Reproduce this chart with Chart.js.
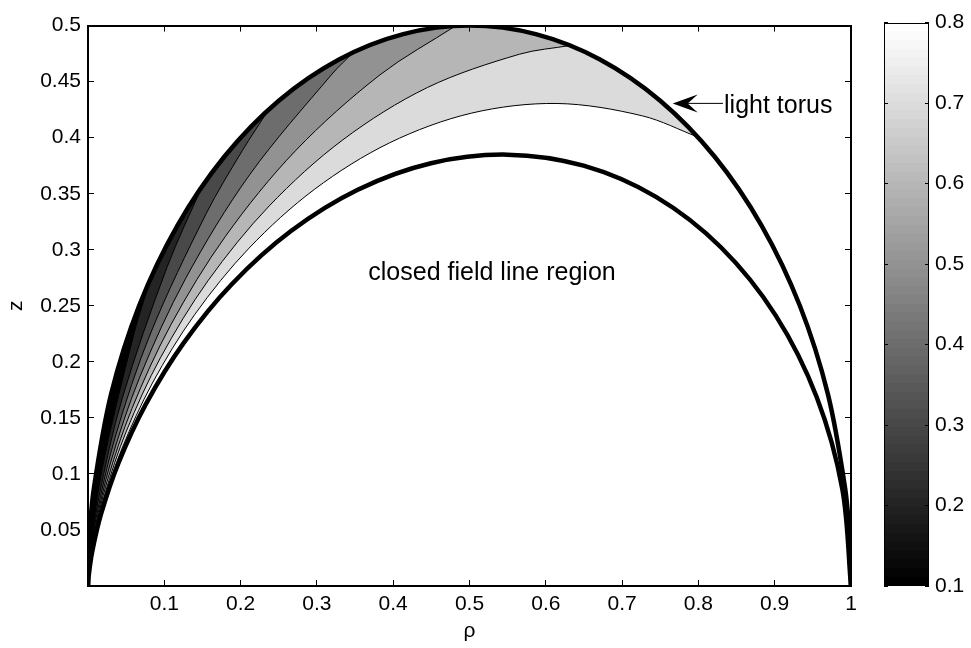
<!DOCTYPE html>
<html><head><meta charset="utf-8">
<script src="https://cdn.jsdelivr.net/npm/chart.js@4.4.1/dist/chart.umd.min.js"></script>
<style>
html,body{margin:0;padding:0;background:#fff;}
#wrap{position:relative;width:971px;height:648px;overflow:hidden;}
#main{position:absolute;left:0;top:0;width:971px;height:648px;}
#cbar{position:absolute;left:860px;top:0;width:111px;height:648px;}
</style></head>
<body><div id="wrap"><canvas id="main" width="971" height="648"></canvas><canvas id="cbar" width="111" height="648"></canvas></div>
<script>
// ---- tick labels ----
const xTicks = [0.1,0.2,0.3,0.4,0.5,0.6,0.7,0.8,0.9,1];
const xTickLabels = ['0.1','0.2','0.3','0.4','0.5','0.6','0.7','0.8','0.9','1'];
const yTicks = [0.05,0.1,0.15,0.2,0.25,0.3,0.35,0.4,0.45,0.5];
const yTickLabels = ['0.05','0.1','0.15','0.2','0.25','0.3','0.35','0.4','0.45','0.5'];
const cbTicks = [0.1,0.2,0.3,0.4,0.5,0.6,0.7,0.8];
const cbTickLabels = ['0.1','0.2','0.3','0.4','0.5','0.6','0.7','0.8'];
const cbMin = 0.1, cbMax = 0.8;

// ---- outer boundary (light torus outer edge) ----
const circleRho = [0,0.0019,0.0076,0.0302,0.0670,0.1170,0.1786,0.2500,0.3290,0.4132,0.5000,0.5868,0.6710,0.7500,0.8214,0.8830,0.9330,0.9698,0.9924,0.9981,1];
const circleZ   = [0,0.0436,0.0868,0.1710,0.2500,0.3214,0.3830,0.4330,0.4698,0.4924,0.5000,0.4924,0.4698,0.4330,0.3830,0.3214,0.2500,0.1710,0.0868,0.0436,0];

// ---- last closed field line ----
const dipoleRho = [0,0.00066,0.00524,0.01734,0.04001,0.07548,0.12500,0.18870,0.26559,0.35355,0.44953,0.54966,0.64952,0.74444,0.82977,0.90122,0.95511,0.98863,1];
const dipoleZ   = [0,0.00757,0.02970,0.06470,0.10992,0.16187,0.21651,0.26949,0.31651,0.35355,0.37720,0.38487,0.37500,0.34714,0.30201,0.24148,0.16841,0.08649,0];

// ---- contour levels and contour lines ----
const contourLevels = [0.8,0.7,0.6,0.5,0.4,0.3,0.2,0.1];
const rho08 = [0,0.00074,0.00586,0.01939,0.04475,0.08443,0.13983,0.21108,0.29708,0.39549,0.50285,0.61485,0.72655,0.79924];
const z08   = [0,0.00846,0.03322,0.07238,0.12296,0.18107,0.24218,0.30146,0.35405,0.39549,0.42194,0.43052,0.41948,0.40057];
const rho07 = [0,0.00083,0.00659,0.02181,0.05033,0.09495,0.15723,0.23736,0.33407,0.44472,0.56545,0.63203];
const z07   = [0,0.00952,0.03735,0.08139,0.13827,0.20361,0.27233,0.33899,0.39813,0.44472,0.47447,0.48226];
const rho06 = [0,0.00095,0.00754,0.02498,0.05765,0.10876,0.18012,0.27190,0.38269,0.48164];
const z06   = [0,0.01090,0.04279,0.09324,0.15839,0.23325,0.31197,0.38832,0.45607,0.49966];
const rho05 = [0,0.00112,0.00887,0.02939,0.06781,0.12794,0.21187,0.31983,0.34810];
const z05   = [0,0.01283,0.05033,0.10967,0.18631,0.27436,0.36696,0.45677,0.47637];
const rho04 = [0,0.00136,0.01075,0.03560,0.08215,0.15499,0.20216,0.23717];
const z04   = [0,0.01554,0.06098,0.13286,0.22572,0.33239,0.38834,0.42535];
const rho03 = [0,0.00171,0.01353,0.04480,0.10338,0.14977];
const z03   = [0,0.01955,0.07673,0.16720,0.28404,0.35685];
const rho02 = [0,0.00231,0.01824,0.06041,0.08237];
const z02   = [0,0.02637,0.10347,0.22545,0.27493];
const rho01 = [0,0.00354,0.02800,0.03497];
const z01   = [0,0.04047,0.15880,0.18370];
const contourLines = [[rho08,z08],[rho07,z07],[rho06,z06],[rho05,z05],[rho04,z04],[rho03,z03],[rho02,z02],[rho01,z01]];

// ---- setup ----
const FONT = '"Liberation Sans", Arial, Helvetica, sans-serif';
Chart.defaults.font.family = FONT;
Chart.defaults.color = '#000';
const pts = (xs, ys) => xs.map((x, i) => ({x: x, y: ys[i]}));
const grayOf = v => { const g = Math.round(Math.max(0, Math.min(1, (v - cbMin) / (cbMax - cbMin))) * 255); return `rgb(${g},${g},${g})`; };

const datasets = [];
contourLines.forEach(([xs, ys], k) => {
  const lvl = contourLevels[k];
  datasets.push({
    data: pts(xs, ys), fill: 'end', backgroundColor: grayOf(lvl - 0.1),
    borderColor: '#000', borderWidth: 1, order: 20 - k, tension: 0.33, pointRadius: 0
  });
});
datasets.push({ data: pts(circleRho, circleZ), fill: 'end', backgroundColor: '#fff', borderColor: '#000', borderWidth: 4.5, order: 2, tension: 0.33, pointRadius: 0, borderJoinStyle: 'round' });
datasets.push({ data: pts(dipoleRho, dipoleZ), fill: false, borderColor: '#000', borderWidth: 4.5, order: 1, tension: 0.33, pointRadius: 0, borderJoinStyle: 'round' });

const setTicks = arr => (s => { s.ticks = arr.map(v => ({value: v})); });
const tickGrid = len => ({ drawOnChartArea: false, drawTicks: true, tickLength: len, color: '#000', lineWidth: 1, z: 1 });
const bord = { display: true, color: '#000', width: 2, z: 1 };

const annot = {
  id: 'annot',
  afterDraw(c) {
    const {ctx} = c; const x = c.scales.x, y = c.scales.y;
    ctx.save();
    ctx.fillStyle = '#000';
    ctx.font = '25px ' + FONT;
    ctx.textBaseline = 'alphabetic';
    ctx.textAlign = 'center';
    ctx.fillText('closed field line region', x.getPixelForValue(0.5295), y.getPixelForValue(0.2734));
    ctx.textAlign = 'left';
    ctx.fillText('light torus', x.getPixelForValue(0.8336), y.getPixelForValue(0.4220));
    const tx = x.getPixelForValue(0.7663), ty = y.getPixelForValue(0.4306), ex = x.getPixelForValue(0.8322);
    ctx.strokeStyle = '#000'; ctx.lineWidth = 1;
    ctx.beginPath(); ctx.moveTo(tx + 14, ty); ctx.lineTo(ex, ty); ctx.stroke();
    ctx.beginPath(); ctx.moveTo(tx, ty); ctx.lineTo(tx + 25, ty - 9); ctx.lineTo(tx + 15, ty); ctx.lineTo(tx + 25, ty + 9); ctx.closePath(); ctx.fill();
    ctx.restore();
  }
};

new Chart(document.getElementById('main'), {
  type: 'line',
  data: { datasets },
  plugins: [annot],
  options: {
    responsive: false, animation: false, devicePixelRatio: 1,
    layout: { padding: { left: 0, right: 120, top: 18, bottom: 0 } },
    plugins: { legend: { display: false }, tooltip: { enabled: false } },
    scales: {
      x: { type: 'linear', position: 'bottom', min: 0, max: 1,
        afterBuildTicks: setTicks(xTicks), afterFit: s => { s.height = 62; },
        ticks: { callback: (v, i) => xTickLabels[i], font: { size: 21 }, padding: 12, maxRotation: 0, autoSkip: false },
        grid: tickGrid(-6), border: bord,
        title: { display: true, text: 'ρ', font: { size: 21 }, padding: { top: 0, bottom: 4 } } },
      x2: { type: 'linear', position: 'top', min: 0, max: 1,
        afterBuildTicks: setTicks(xTicks), afterFit: s => { s.height = 0; },
        ticks: { display: false }, grid: tickGrid(-6), border: bord },
      y: { type: 'linear', position: 'left', min: 0, max: 0.5,
        afterBuildTicks: setTicks(yTicks), afterFit: s => { s.width = 88; },
        ticks: { callback: (v, i) => yTickLabels[i], font: { size: 21 }, padding: 13, autoSkip: false },
        grid: tickGrid(-6), border: bord,
        title: { display: true, text: 'z', font: { size: 21 }, padding: { top: 4, bottom: 0 } } },
      y2: { type: 'linear', position: 'right', min: 0, max: 0.5,
        afterBuildTicks: setTicks(yTicks), afterFit: s => { s.width = 0; },
        ticks: { display: false }, grid: tickGrid(-6), border: bord }
    }
  }
});

// ---- colorbar ----
const cbDatasets = [];
for (let k = 0; k < 64; k++) {
  const g = Math.round(k / 63 * 255);
  cbDatasets.push({ data: [[cbMin, cbMin + (k + 1) * (cbMax - cbMin) / 64]], backgroundColor: `rgb(${g},${g},${g})`,
    borderWidth: 0, grouped: false, barPercentage: 1, categoryPercentage: 1, order: k });
}
const frame = {
  id: 'frame',
  afterDraw(c) {
    const a = c.chartArea, ctx = c.ctx;
    ctx.save(); ctx.strokeStyle = '#000'; ctx.lineWidth = 1;
    ctx.strokeRect(Math.round(a.left) + 0.5, Math.round(a.top) + 0.5, Math.round(a.right - a.left) - 1, Math.round(a.bottom - a.top) - 1);
    ctx.restore();
  }
};
new Chart(document.getElementById('cbar'), {
  type: 'bar',
  data: { labels: [''], datasets: cbDatasets },
  plugins: [frame],
  options: {
    responsive: false, animation: false, devicePixelRatio: 1,
    layout: { padding: { left: 24, right: 0, top: 18, bottom: 62 } },
    plugins: { legend: { display: false }, tooltip: { enabled: false } },
    scales: {
      x: { display: false },
      y: { position: 'right', min: cbMin, max: cbMax,
        afterBuildTicks: setTicks(cbTicks), afterFit: s => { s.width = 42; },
        ticks: { callback: (v, i) => cbTickLabels[i], font: { size: 21 }, padding: 10, autoSkip: false },
        grid: tickGrid(-4), border: { display: false } },
      yl: { position: 'left', min: cbMin, max: cbMax,
        afterBuildTicks: setTicks(cbTicks), afterFit: s => { s.width = 0; },
        ticks: { display: false }, grid: tickGrid(-4), border: { display: false } }
    }
  }
});
</script></body></html>
